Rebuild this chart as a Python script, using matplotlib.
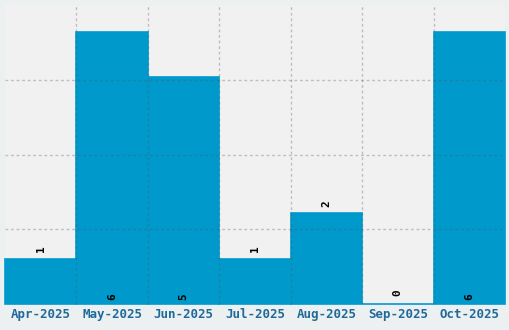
import numpy as np
import matplotlib.pyplot as plt

months = ['Apr-2025', 'May-2025', 'Jun-2025', 'Jul-2025', 'Aug-2025', 'Sep-2025', 'Oct-2025']
counts = [1, 6, 5, 1, 2, 0, 6]

bar_color = '#0099cc'
text_color = '#1f6a9a'

fig = plt.figure(figsize=(5.1, 3.3), dpi=100, facecolor='#edf0f1')
ax = fig.add_axes([5/510, 26/330, 500/510, 299/330])
ax.set_facecolor('#f1f1f1')

x = np.arange(len(months))
# edge line keeps the zero bar visible as a thin strip
bars = ax.bar(x, counts, width=1.0, color=bar_color, edgecolor=bar_color, linewidth=1.2, zorder=1)
for b in bars:
    b.set_clip_on(False)

ymax = max(counts) * 1.1
ax.set_xlim(-0.5, len(months) - 0.5)
ax.set_ylim(0, ymax)

# dotted grid on top of the bars
for xb in x[:-1] + 0.5:
    ax.axvline(xb, color='#555555', alpha=0.33, lw=1, ls=(0, (2, 2)), zorder=2)
for yg in np.linspace(0, ymax, 5)[1:-1]:
    ax.axhline(yg, color='#555555', alpha=0.33, lw=1, ls=(0, (2, 2)), zorder=2)

# value labels: above short bars, inside at bottom for tall ones
lbl = dict(rotation=90, ha='center', va='bottom', family='DejaVu Sans Mono',
           fontweight='bold', fontsize=8, color='black', zorder=3)
for xi, c in zip(x, counts):
    if c >= 3:
        ax.text(xi, 0.08, str(c), **lbl)
    elif c == 0:
        ax.text(xi, 0.18, str(c), **lbl)
    else:
        ax.text(xi, c + 0.15, str(c), **lbl)

ax.set_xticks(x)
ax.set_xticklabels(months, family='DejaVu Sans Mono', fontweight='bold', fontsize=9, color=text_color)
ax.tick_params(axis='x', length=0, pad=3)
ax.set_yticks([])
for s in ax.spines.values():
    s.set_visible(False)

plt.savefig('out.png', dpi=100, facecolor=fig.get_facecolor())
plt.close()
